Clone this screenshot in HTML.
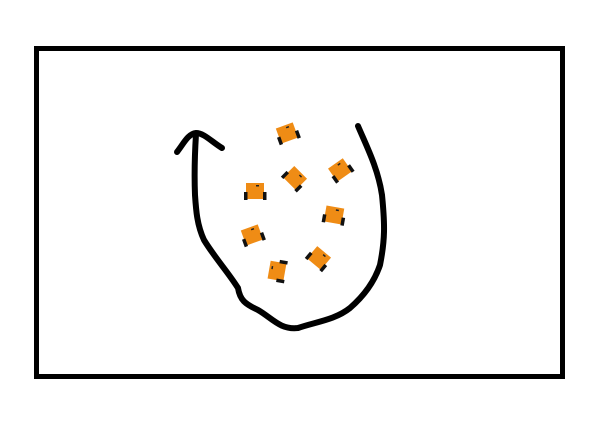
<!DOCTYPE html>
<html><head><meta charset="utf-8"><style>
html,body{margin:0;padding:0;background:#fff;width:592px;height:432px;overflow:hidden}
</style></head><body>
<svg id="s" width="592" height="432" viewBox="0 0 592 432">
<rect x="36.5" y="48.5" width="526" height="328" fill="none" stroke="#000" stroke-width="5"/>
<path d="M358,126 C366,145 378,168 382,195 C385,225 385,240 380,265 C375,280 365,295 350,308 C335,320 315,322 298,328 C280,330 272,318 258,310 C245,304 240,300 238,288 C228,272 215,258 204,240 C197,225 196,210 195,195 C194,170 195,150 196,134" fill="none" stroke="#000" stroke-width="6" stroke-linecap="round" stroke-linejoin="round"/>
<path d="M177,152 C184,143 188,134 196,133 C204,133 212,142 222,148" fill="none" stroke="#000" stroke-width="6" stroke-linecap="round" stroke-linejoin="round"/>
<g id="robots"></g>
</svg>
<script>
const robotX = [287, 295, 340, 255, 334, 252, 319, 277];
const robotY = [133, 178, 170, 191, 215, 235, 258, 271];
const robotAngle = [-20, 45, -35, 0, 10, -20, 40, -80];
const NS = "http://www.w3.org/2000/svg";
const g = document.getElementById('robots');
for (let i = 0; i < robotX.length; i++) {
  const r = document.createElementNS(NS, 'g');
  
  
  r.setAttribute('transform', `translate(${robotX[i]},${robotY[i]}) rotate(${robotAngle[i]})`);
  const body = document.createElementNS(NS, 'rect');
  body.setAttribute('x', -9); body.setAttribute('y', -8);
  body.setAttribute('width', 18); body.setAttribute('height', 16);
  body.setAttribute('fill', '#ef8c15');
  r.appendChild(body);
  for (const wx of [-11, 8]) {
    const w = document.createElementNS(NS, 'rect');
    w.setAttribute('x', wx); w.setAttribute('y', 1);
    w.setAttribute('width', 3.5); w.setAttribute('height', 8);
    w.setAttribute('fill', '#111');
    r.appendChild(w);
  }
  const dot = document.createElementNS(NS, 'rect');
  dot.setAttribute('x', 1); dot.setAttribute('y', -6);
  dot.setAttribute('width', 3); dot.setAttribute('height', 1.5);
  dot.setAttribute('fill', '#222');
  r.appendChild(dot);
  g.appendChild(r);
}
</script>
</body></html>
